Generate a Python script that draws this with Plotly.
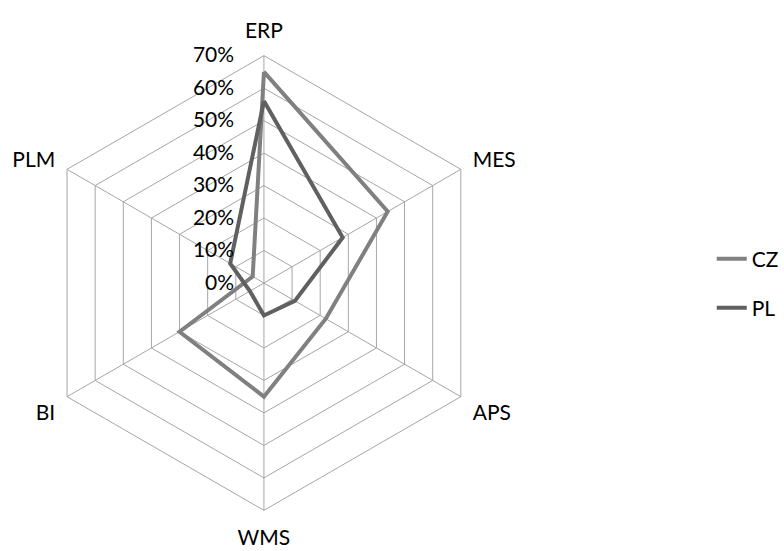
import plotly.graph_objects as go

categories = ["ERP", "MES", "APS", "WMS", "BI", "PLM"]
cz_values = [0.65, 0.44, 0.22, 0.35, 0.30, 0.04]
pl_values = [0.56, 0.28, 0.11, 0.10, 0.05, 0.12]
tick_vals = [0, 0.1, 0.2, 0.3, 0.4, 0.5, 0.6, 0.7]
tick_text = ["0%", "10%", "20%", "30%", "40%", "50%", "60%", "70%"]

W, H = 784, 551
cx, cy, R = 267, 283, 230

FONT = "Lato"
FS = 21
GRID = "#a6a6a6"

fig = go.Figure()
fig.add_trace(go.Scatterpolar(
    r=cz_values + cz_values[:1], theta=categories + categories[:1],
    mode="lines", name="CZ", line=dict(color="#808080", width=4),
    legend="legend", showlegend=True,
))
fig.add_trace(go.Scatterpolar(
    r=pl_values + pl_values[:1], theta=categories + categories[:1],
    mode="lines", name="PL", line=dict(color="#606060", width=4),
    legend="legend2", showlegend=True,
))

fig.update_layout(
    width=W, height=H,
    showlegend=True,
    margin=dict(l=0, r=0, t=0, b=0),
    paper_bgcolor="white", plot_bgcolor="white",
    font=dict(family=FONT, size=FS, color="#000000"),
    polar=dict(
        domain=dict(x=[(cx - R) / W, (cx + R) / W], y=[1 - (cy + R) / H, 1 - (cy - R) / H]),
        bgcolor="white",
        gridshape="linear",
        angularaxis=dict(
            rotation=90, direction="clockwise",
            linecolor=GRID, linewidth=1,
            gridcolor=GRID, gridwidth=1,
            ticks="outside", ticklen=9, tickcolor="rgba(0,0,0,0)",
            tickfont=dict(size=FS, family=FONT),
        ),
        radialaxis=dict(
            range=[0, 0.7], tickvals=tick_vals, ticktext=tick_text,
            angle=90, side="counterclockwise", tickangle=90,
            showline=False, gridcolor=GRID, gridwidth=1,
            ticks="outside", ticklen=22, tickcolor="rgba(0,0,0,0)",
            tickfont=dict(size=FS, family=FONT),
        ),
    ),
    legend=dict(x=720 / W, y=1 - 259 / H, xanchor="left", yanchor="middle",
                font=dict(size=FS, family=FONT), bgcolor="rgba(0,0,0,0)"),
    legend2=dict(x=720 / W, y=1 - 308 / H, xanchor="left", yanchor="middle",
                 font=dict(size=FS, family=FONT), bgcolor="rgba(0,0,0,0)"),
)

fig.write_html("out.html")
